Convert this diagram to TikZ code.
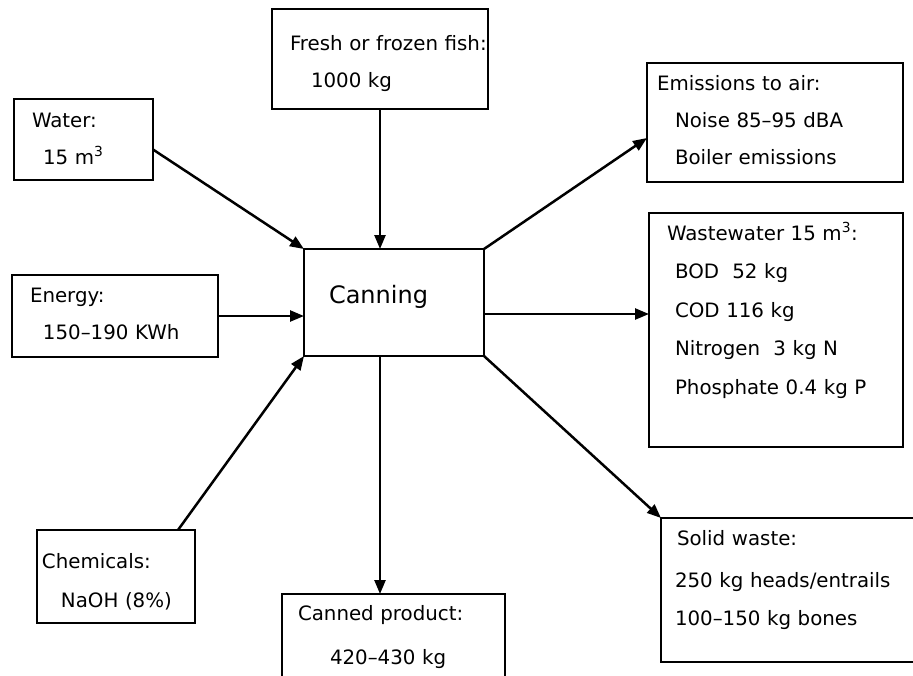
\documentclass[tikz,border=0pt]{standalone}
\usepackage{fontspec}
\setmainfont{DejaVu Sans}
\usetikzlibrary{arrows.meta}

\begin{document}
\begin{tikzpicture}[x=1pt,y=-1pt,
        flow/.style={draw,line width=2.5pt,anchor=north west,align=left,inner sep=0pt,outer sep=0pt,
                     font=\fontsize{19.8}{38}\selectfont},
        arr/.style={-{Triangle[length=14pt,width=11pt]},line width=2.5pt}]
      \useasboundingbox[fill=white] (0,0) rectangle (913,675);
      \node[flow,text width=180pt,font=\fontsize{24}{28}\selectfont] (canning) at (304,249)
           {\rule{0pt}{54.75pt}\hspace*{25pt}Canning\rule[-52.25pt]{0pt}{52.25pt}};
      \node[flow,text width=216pt] (fish) at (272,9)
           {\rule{0pt}{41pt}\hspace*{18pt}Fresh or frozen fish:\\[-1pt]\hspace*{39pt}1000 kg\rule[-22pt]{0pt}{22pt}};
      \node[flow,text width=139pt] (water) at (14,99)
           {\rule{0pt}{28pt}\hspace*{18pt}Water:\\[-1pt]\hspace*{29pt}15 m\textsuperscript{3}\rule[-16pt]{0pt}{16pt}};
      \node[flow,text width=206pt] (energy) at (12,275)
           {\rule{0pt}{27pt}\hspace*{18pt}Energy:\\[-1pt]\hspace*{31pt}150–190 KWh\rule[-18pt]{0pt}{18pt}};
      \node[flow,text width=158pt] (chem) at (37,530)
           {\rule{0pt}{38pt}\hspace*{5pt}Chemicals:\\[1pt]\hspace*{24pt}NaOH (8\%)\rule[-16pt]{0pt}{16pt}};
      \node[flow,text width=223pt] (canned) at (282,594)
           {\rule{0pt}{26pt}\hspace*{16pt}Canned product:\\[6pt]\hspace*{48pt}420–430 kg\rule[-36pt]{0pt}{36pt}};
      \node[flow,text width=256pt] (emis) at (647,63)
           {\rule{0pt}{27pt}\hspace*{10pt}Emissions to air:\\[-1pt]\hspace*{28pt}Noise 85–95 dBA\\[-1pt]
            \hspace*{28pt}Boiler emissions\rule[-18pt]{0pt}{18pt}};
      \node[flow,text width=254pt] (waste) at (649,213)
           {\rule{0pt}{27pt}\hspace*{18pt}Wastewater 15 m\textsuperscript{3}:\\[0.5pt]\hspace*{26pt}BOD\ \ 52 kg\\[0.5pt]
            \hspace*{26pt}COD 116 kg\\[0.5pt]\hspace*{26pt}Nitrogen\ \ 3 kg N\\[0.5pt]
            \hspace*{26pt}Phosphate 0.4 kg P\rule[-53pt]{0pt}{53pt}};
      \node[flow,text width=269pt] (solid) at (661,518)
           {\rule{0pt}{27pt}\hspace*{16pt}Solid waste:\\[4pt]\hspace*{14pt}250 kg heads/entrails\\
            \hspace*{14pt}100–150 kg bones\rule[-37pt]{0pt}{37pt}};
      \draw[arr](fish.south)--(fish.south |- canning.north);
      \draw[arr]([yshift=-10pt]water.east)--(canning.north west);
      \draw[arr](energy.east)--(energy.east -| canning.west);
      \draw[arr]([xshift=-17pt]chem.north east)--(canning.south west);
      \draw[arr](canning.south -| fish.south)--(canned.north -| fish.south);
      \draw[arr](canning.north east)--([yshift=-15.5pt]emis.west);
      \draw[arr]([yshift=-11.5pt]canning.east)--([yshift=-11.5pt]canning.east -| waste.west);
      \draw[arr](canning.south east)--(solid.north west);
    \end{tikzpicture}
\end{document}
